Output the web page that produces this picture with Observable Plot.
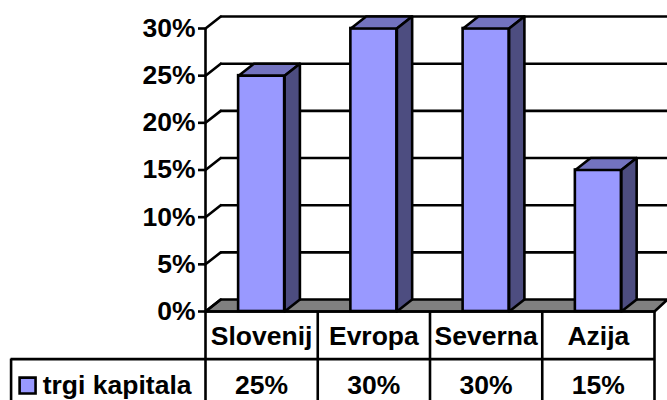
<!DOCTYPE html>
<html>
<head>
<meta charset="utf-8">
<style>
  html, body { margin: 0; padding: 0; background: #fff; }
  svg { display: block; }
</style>
<script src="https://cdn.jsdelivr.net/npm/d3@7"></script>
<script src="https://cdn.jsdelivr.net/npm/@observablehq/plot@0.6"></script>
</head>
<body>
<script>
// Chart data
const categories = ["Slovenij", "Evropa", "Severna", "Azija"];
const values = [25, 30, 30, 15];
const valueLabels = ["25%", "30%", "30%", "15%"];
const seriesName = "trgi kapitala";
const yTicks = [0, 5, 10, 15, 20, 25, 30];

// Oblique projection of the box, in axis units
const depthX = 0.136;
const depthY = 1.27;
const barInset = 0.295;
const floorEnd = 4.116;

// Table levels below the zero line, in axis units
const rowSplit = -5.05;
const tableBottom = -9.6;
const headerRowY = -2.6;
const valueRowY = -7.85;
const legendLeft = -1.732;
const swatchX = -1.585;
const legendTextX = -1.45;

const font = "'Liberation Sans', Arial, sans-serif";
const ink = "#000";
const labelSize = 26.5;
const lineWeight = 2.6;

const polygon = (pts, key, fill) =>
  [...pts, pts[0]].map(([x, y]) => ({x, y, key, fill}));

const faces = values.flatMap((v, i) => {
  const x1 = i + barInset, x2 = i + 1 - barInset;
  return [
    ...polygon([[x1, v], [x2, v], [x2 + depthX, v + depthY], [x1 + depthX, v + depthY]], `t${i}`, "#7373bf"),
    ...polygon([[x2, 0], [x2 + depthX, depthY], [x2 + depthX, v + depthY], [x2, v]], `s${i}`, "#4d4d80")
  ];
});

const floor = polygon([[0, 0], [depthX, depthY], [floorEnd, depthY], [4, 0]], "floor", "#808080");

const wallEdges = yTicks.flatMap((t) => [
  {x: 0, y: t, key: t},
  {x: depthX, y: t + depthY, key: t}
]);

const chart = Plot.plot({
  width: 667,
  height: 400,
  marginLeft: 205,
  marginRight: 13,
  marginTop: 28,
  marginBottom: 89,
  style: {background: "#fff", fontFamily: font},
  x: {type: "linear", domain: [0, 4], axis: null},
  y: {domain: [0, 30], axis: null},
  marks: [
    // Floor and back wall
    Plot.line(floor, {x: "x", y: "y", z: "key", fill: "#808080", stroke: ink, strokeWidth: lineWeight, curve: "linear"}),
    Plot.ruleY(yTicks.filter((t) => t > 0), {y: (t) => t + depthY, x1: depthX, x2: floorEnd, stroke: ink, strokeWidth: lineWeight}),
    Plot.line(wallEdges, {x: "x", y: "y", z: "key", stroke: ink, strokeWidth: lineWeight}),

    // Columns
    Plot.rectY(values, {
      x1: (d, i) => i + barInset,
      x2: (d, i) => i + 1 - barInset,
      y1: 0,
      y2: (d) => d,
      inset: 0,
      fill: "#9999ff",
      stroke: ink,
      strokeWidth: 2.6
    }),
    Plot.line(faces, {x: "x", y: "y", z: "key", fill: "fill", stroke: ink, strokeWidth: lineWeight, strokeLinejoin: "round"}),

    // Value axis
    Plot.axisY(yTicks, {
      anchor: "left",
      tickSize: 7,
      tickPadding: 3,
      tickFormat: (d) => `${d}%`,
      fontSize: labelSize,
      fontWeight: "bold",
      stroke: ink,
      strokeWidth: lineWeight,
      fill: ink,
      label: null
    }),
    Plot.ruleX([0], {y1: 0, y2: 30, stroke: ink, strokeWidth: lineWeight}),

    // Data table grid; the last row runs to the edge of the frame
    Plot.ruleY([0], {x1: 0, x2: 4, stroke: ink, strokeWidth: lineWeight}),
    Plot.ruleY([rowSplit], {x1: legendLeft, x2: 4, stroke: ink, strokeWidth: lineWeight}),
    Plot.ruleX([0, 1, 2, 3, 4], {y1: 0, y2: tableBottom, stroke: ink, strokeWidth: lineWeight}),
    Plot.ruleX([legendLeft], {y1: rowSplit, y2: tableBottom, stroke: ink, strokeWidth: lineWeight}),

    // Data table text
    Plot.text(categories, {
      x: (d, i) => i + 0.5,
      y: headerRowY,
      text: (d) => d,
      fontSize: labelSize,
      fontWeight: "bold",
      fill: ink
    }),
    Plot.text(valueLabels, {
      x: (d, i) => i + 0.5,
      y: valueRowY,
      text: (d) => d,
      fontSize: labelSize,
      fontWeight: "bold",
      fill: ink
    }),
    Plot.dot([seriesName], {
      x: swatchX,
      y: valueRowY,
      symbol: "square",
      r: 9,
      fill: "#9999ff",
      stroke: ink,
      strokeWidth: lineWeight
    }),
    Plot.text([seriesName], {
      x: legendTextX,
      y: valueRowY,
      text: (d) => d,
      textAnchor: "start",
      fontSize: labelSize,
      fontWeight: "bold",
      fill: ink
    })
  ]
});

document.body.appendChild(chart);
</script>
</body>
</html>
